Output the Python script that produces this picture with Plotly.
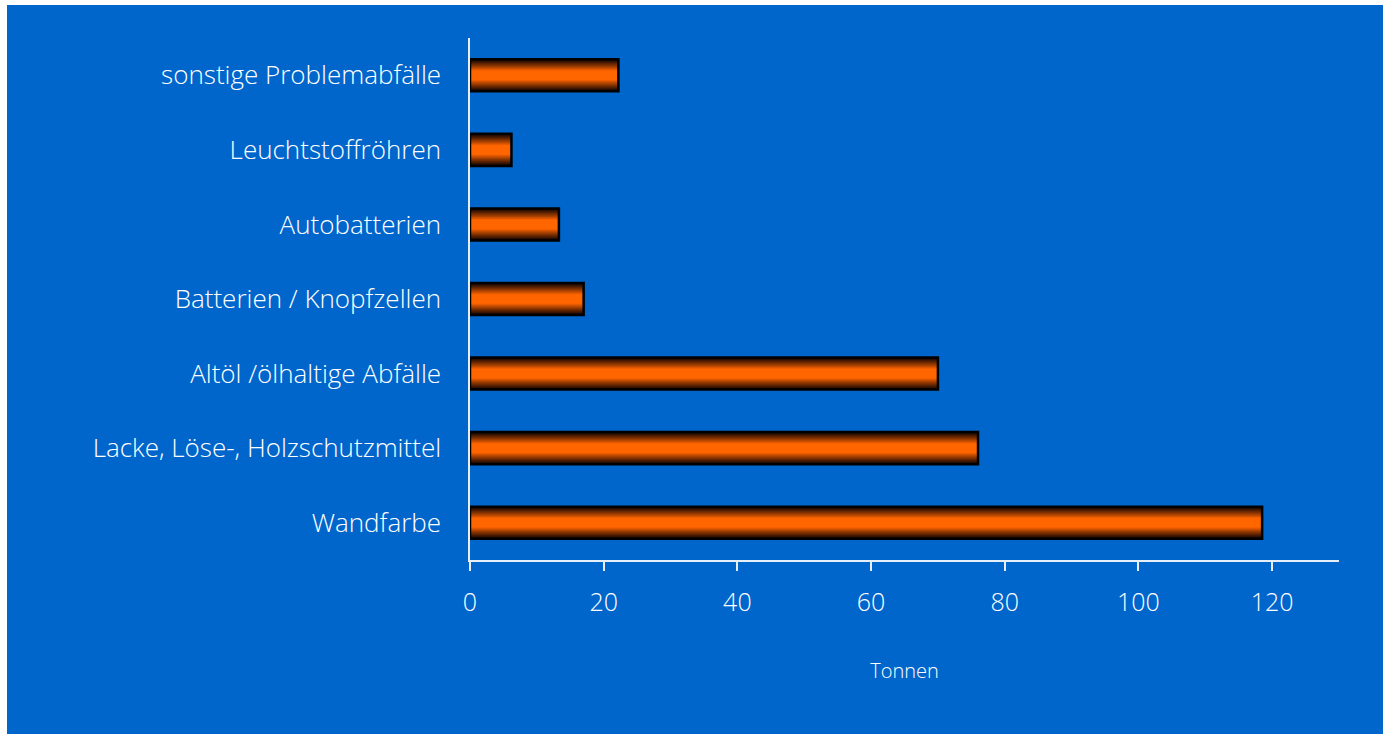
import plotly.graph_objects as go

categories = [
    "Wandfarbe",
    "Lacke, Löse-, Holzschutzmittel",
    "Altöl /ölhaltige Abfälle",
    "Batterien / Knopfzellen",
    "Autobatterien",
    "Leuchtstoffröhren",
    "sonstige Problemabfälle",
]
tonnen = [118.5, 76, 70, 17, 13.3, 6.2, 22.2]

x_ticks = [0, 20, 40, 60, 80, 100, 120]
x_title = "Tonnen"

BLUE = "#0066CC"
FONT = "Open Sans"

fig = go.Figure()

# gradient bar emulation: stacked overlay layers from dark edge to orange core
n_layers = 14
outer_w, inner_w = 0.43, 0.13
for i in range(n_layers):
    t = i / (n_layers - 1)
    w = outer_w - (outer_w - inner_w) * t
    tt = t ** 1.1
    r = int(20 + (255 - 20) * tt)
    g = int(5 + (102 - 5) * tt)
    b = 0
    fig.add_trace(go.Bar(
        y=categories, x=tonnen, orientation="h", width=w,
        marker=dict(color=f"rgb({r},{g},{b})", line=dict(width=0)),
        hoverinfo="skip", showlegend=False,
    ))
# outline
fig.add_trace(go.Bar(
    y=categories, x=tonnen, orientation="h", width=outer_w,
    marker=dict(color="rgba(0,0,0,0)", line=dict(color="black", width=2.5)),
    showlegend=False,
))

fig.update_layout(
    width=1376, height=729,
    barmode="overlay",
    paper_bgcolor=BLUE, plot_bgcolor=BLUE,
    margin=dict(l=463, r=44, t=33, b=174),
    font=dict(family=FONT, color="white"),
    showlegend=False,
)
fig.update_xaxes(
    range=[0, 130], tickvals=x_ticks, ticktext=[str(v) for v in x_ticks],
    showgrid=False, zeroline=False,
    showline=True, linecolor="#E6EEF8", linewidth=1.5,
    ticks="outside", ticklen=9, tickcolor="#E6EEF8", tickwidth=1.5,
    tickfont=dict(size=25, color="white", family=FONT, weight=300),
    ticklabelstandoff=10,
    title=dict(text=x_title, font=dict(size=20, color="white", family=FONT, weight=300), standoff=47),
)
fig.update_yaxes(
    type="category", categoryorder="array", categoryarray=categories,
    range=[-0.5, 6.5],
    showgrid=False, zeroline=False,
    showline=True, linecolor="#E6EEF8", linewidth=1.5,
    ticks="", tickfont=dict(size=26, color="white", family=FONT, weight=300),
    ticklabelstandoff=22,
)

fig.write_html("out.html", post_script="document.body.style.margin='5px 0 0 7px';")
